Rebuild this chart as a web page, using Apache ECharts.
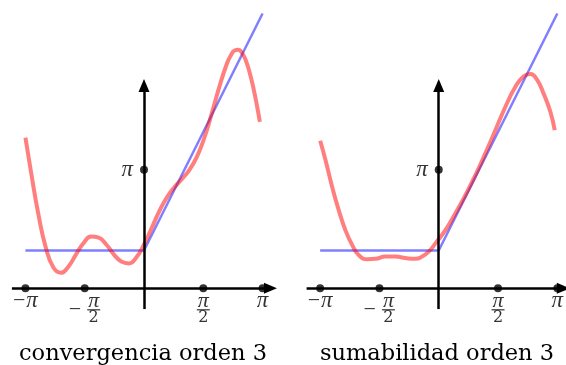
<!DOCTYPE html>
<html>
<head>
<meta charset="utf-8">
<script src="https://cdn.jsdelivr.net/npm/echarts@6/dist/echarts.min.js"></script>
<style>
  html, body { margin: 0; padding: 0; background: #fff; }
  #chart { width: 566px; height: 365px; }
</style>
</head>
<body>
<div id="chart"></div>
<script>
// f(x): 1 on [-π, 0], 1 + 2x on [0, π]
const fX = [-3.1416, 0, 3.1416];
const fY = [1, 1, 7.28];

// Partial Fourier sum of order 3
const convX = [-3.1416, -3.0, -2.8, -2.6, -2.4, -2.2, -2.0, -1.8, -1.6, -1.4,
               -1.2, -1.0, -0.8, -0.6, -0.4, -0.2, 0, 0.2, 0.4, 0.6,
               0.8, 1.0, 1.2, 1.4, 1.6, 1.8, 2.0, 2.2, 2.3, 2.4,
               2.5, 2.6, 2.7, 2.8, 2.9, 3.0, 3.07];
const convY = [3.99, 3.12, 1.97, 1.07, 0.55, 0.41, 0.58, 0.90, 1.20, 1.37,
               1.34, 1.16, 0.90, 0.71, 0.66, 0.82, 1.16, 1.59, 2.03, 2.40,
               2.67, 2.89, 3.13, 3.48, 3.99, 4.65, 5.35, 5.96, 6.17, 6.30,
               6.32, 6.23, 6.03, 5.71, 5.30, 4.80, 4.41];

// Fejér (Cesàro) mean of order 3
const sumX = [-3.14, -3.00, -2.824, -2.649, -2.472, -2.294, -2.119, -1.897, -1.677, -1.412,
              -1.147, -0.882, -0.617, -0.44, -0.265, -0.087, 0.177, 0.442, 0.707, 0.972,
              1.237, 1.502, 1.767, 2.032, 2.252, 2.429, 2.607, 2.781, 2.959, 3.073];
const sumY = [3.91, 3.40, 2.69, 2.07, 1.54, 1.15, 0.88, 0.77, 0.78, 0.84,
              0.84, 0.80, 0.78, 0.84, 0.97, 1.19, 1.54, 1.99, 2.47, 3.00,
              3.58, 4.19, 4.81, 5.34, 5.62, 5.68, 5.52, 5.15, 4.67, 4.19];

// Marks on the horizontal axis and their labels
const xTickValues = [-Math.PI, -Math.PI / 2, Math.PI / 2, Math.PI];
const xTickLabels = [
  '{mi|−}{t|π}',
  '{ms|}{n|π}\n{ms|−}{b|}\n{ms|}{d|2}',
  '{n|π}\n{b|}\n{d|2}',
  '{t|π}'
];
// Mark on the vertical axis
const yTickValues = [Math.PI];
const yTickLabels = ['{t|π}'];

const panelTitles = ['convergencia orden 3', 'sumabilidad orden 3'];

const zip = (xs, ys) => xs.map((x, i) => [x, ys[i]]);

const piFont = { fontFamily: 'Liberation Serif', fontStyle: 'italic', color: '#000' };
const rich = {
  t: Object.assign({ fontSize: 23, lineHeight: 15 }, piFont),
  mi: { fontFamily: 'Liberation Serif', fontSize: 22, color: '#000', lineHeight: 15, padding: [0, 1, 0, 0] },
  ms: { fontFamily: 'Liberation Serif', fontSize: 22, color: '#000', width: 18, align: 'left', lineHeight: 3 },
  n: Object.assign({ fontSize: 22, width: 14, align: 'center', lineHeight: 15 }, piFont),
  b: { width: 13, height: 1.2, backgroundColor: '#000', align: 'center', lineHeight: 3 },
  d: { fontFamily: 'DejaVu Serif', fontSize: 16, color: '#000', width: 14, align: 'center', lineHeight: 14 }
};

const chart = echarts.init(document.getElementById('chart'), null, { renderer: 'canvas' });

// 37.75 px per unit on both axes of both panels
const grids = [
  { left: 11.9, top: 8.95, width: 264.2, height: 302 },
  { left: 306.6, top: 8.95, width: 256.7, height: 302 }
];
const xRanges = [[-3.5, 3.5], [-3.5, 3.3]];
const xAxisEnds = [3.35, 3.3];

function axisLines(idx) {
  return {
    silent: true,
    symbol: ['none', 'triangle'],
    symbolSize: [11, 13],
    label: { show: false },
    emphasis: { disabled: true },
    lineStyle: { color: '#000', width: 2.5, type: 'solid' },
    data: [
      [{ coord: [-3.5, 0] }, { coord: [xAxisEnds[idx], 0] }],
      [{ coord: [0, -0.55] }, { coord: [0, 5.37] }]
    ]
  };
}

function panelSeries(idx, redX, redY) {
  const tickData = xTickValues.map((v, i) => ({
    value: [v, 0],
    label: { formatter: xTickLabels[i] }
  }));
  const yTickData = yTickValues.map((v, i) => ({
    value: [0, v],
    label: { formatter: yTickLabels[i], position: 'left', distance: 7 }
  }));
  return [
    {
      type: 'line', xAxisIndex: idx, yAxisIndex: idx,
      data: [], silent: true, clip: false,
      markLine: axisLines(idx)
    },
    {
      type: 'line', xAxisIndex: idx, yAxisIndex: idx,
      data: zip(fX, fY), showSymbol: false, silent: true,
      lineStyle: { color: 'rgba(0,0,255,0.5)', width: 2.5 }
    },
    {
      type: 'line', xAxisIndex: idx, yAxisIndex: idx,
      data: zip(redX, redY), showSymbol: false, silent: true, smooth: 0.5,
      lineStyle: { color: 'rgba(255,0,0,0.5)', width: 4, cap: 'butt' }
    },
    {
      type: 'scatter', xAxisIndex: idx, yAxisIndex: idx,
      data: tickData.concat(yTickData), symbolSize: 8, silent: true, clip: false,
      itemStyle: { color: '#000' },
      label: { show: true, position: 'bottom', distance: 1, rich: rich }
    }
  ];
}

const axisCfg = (i) => ({ type: 'value', gridIndex: i, min: xRanges[i][0], max: xRanges[i][1], show: false });
const yCfg = (i) => ({ type: 'value', gridIndex: i, min: -0.6, max: 7.4, show: false });

const titleStyle = { fontFamily: 'DejaVu Serif', fontSize: 22.5, fontWeight: 'normal', color: '#000' };

chart.setOption({
  animation: false,
  backgroundColor: '#fff',
  title: [
    { text: panelTitles[0], left: 143, top: 343, padding: 0, textAlign: 'center', textStyle: titleStyle },
    { text: panelTitles[1], left: 437, top: 343, padding: 0, textAlign: 'center', textStyle: titleStyle }
  ],
  grid: grids,
  xAxis: [axisCfg(0), axisCfg(1)],
  yAxis: [yCfg(0), yCfg(1)],
  series: panelSeries(0, convX, convY).concat(panelSeries(1, sumX, sumY))
});
</script>
</body>
</html>
